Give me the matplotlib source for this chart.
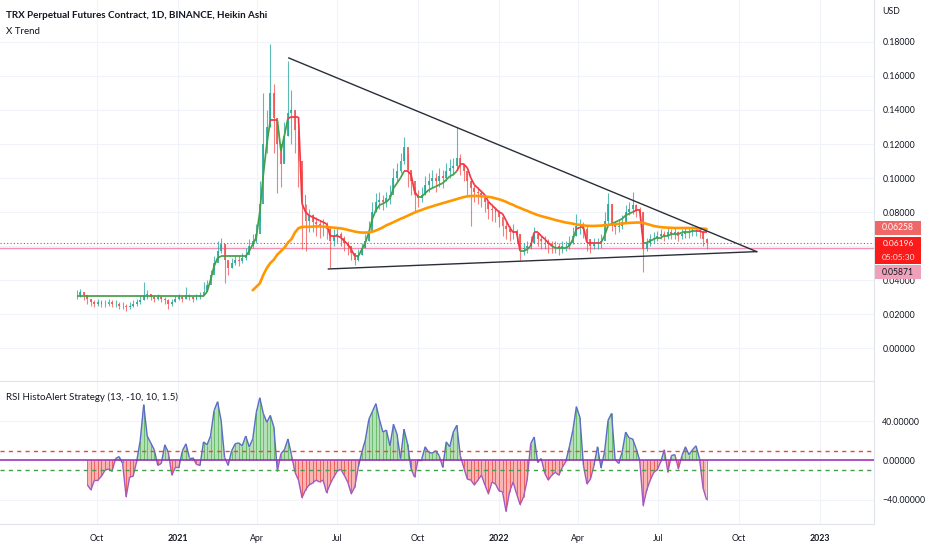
import numpy as np
import pandas as pd
import matplotlib
matplotlib.use("Agg")
import matplotlib.pyplot as plt
import matplotlib.dates as mdates
from matplotlib.collections import LineCollection
from matplotlib.patches import Rectangle

plt.rcParams['font.family'] = ['Lato', 'DejaVu Sans']

# ==========================================
# Data (one bar every 4 days)
# ==========================================

first_bar = "2020-09-08"
bar_step = "4D"

closes = [
    0.031, 0.033, 0.031, 0.029, 0.027, 0.026, 0.027, 0.026, 0.026, 0.027,
    0.026, 0.026, 0.025, 0.025, 0.024, 0.025, 0.026, 0.027, 0.028, 0.031,
    0.032, 0.030, 0.029, 0.030, 0.029, 0.028, 0.026, 0.027, 0.029, 0.030,
    0.029, 0.031, 0.030, 0.029, 0.030, 0.031, 0.033, 0.037, 0.043, 0.050,
    0.057, 0.061, 0.052, 0.047, 0.050, 0.052, 0.051, 0.053, 0.055, 0.060,
    0.063, 0.067, 0.085, 0.120, 0.130, 0.150, 0.135, 0.120, 0.108, 0.125,
    0.138, 0.140, 0.128, 0.110, 0.090, 0.075, 0.078, 0.074, 0.073, 0.071,
    0.072, 0.070, 0.063, 0.066, 0.067, 0.065, 0.062, 0.060, 0.056, 0.052,
    0.055, 0.059, 0.063, 0.068, 0.080, 0.086, 0.087, 0.086, 0.088, 0.090,
    0.100, 0.104, 0.110, 0.118, 0.105, 0.098, 0.090, 0.088, 0.090, 0.096,
    0.098, 0.100, 0.098, 0.101, 0.100, 0.104, 0.106, 0.107, 0.112, 0.108,
    0.104, 0.098, 0.094, 0.092, 0.091, 0.089, 0.086, 0.082, 0.081, 0.080,
    0.077, 0.072, 0.070, 0.068, 0.069, 0.067, 0.058, 0.059, 0.060, 0.062,
    0.067, 0.064, 0.063, 0.063, 0.061, 0.060, 0.060, 0.059, 0.060, 0.060,
    0.062, 0.066, 0.072, 0.072, 0.070, 0.064, 0.060, 0.062, 0.062, 0.063,
    0.075, 0.085, 0.073, 0.071, 0.072, 0.074, 0.080, 0.082, 0.084, 0.081,
    0.080, 0.058, 0.062, 0.064, 0.065, 0.066, 0.067, 0.066, 0.068, 0.067,
    0.068, 0.066, 0.067, 0.068, 0.068, 0.069, 0.069, 0.068, 0.064, 0.062,
]

highs = [
    0.034, 0.035, 0.033, 0.031, 0.029, 0.028, 0.029, 0.028, 0.028, 0.029,
    0.028, 0.028, 0.027, 0.027, 0.026, 0.027, 0.028, 0.029, 0.031, 0.039,
    0.034, 0.032, 0.031, 0.032, 0.031, 0.030, 0.029, 0.029, 0.031, 0.032,
    0.031, 0.036, 0.032, 0.031, 0.032, 0.033, 0.039, 0.040, 0.046, 0.054,
    0.063, 0.065, 0.061, 0.051, 0.053, 0.055, 0.054, 0.056, 0.059, 0.064,
    0.067, 0.073, 0.098, 0.150, 0.140, 0.179, 0.155, 0.135, 0.118, 0.133,
    0.169, 0.152, 0.140, 0.125, 0.105, 0.085, 0.082, 0.079, 0.077, 0.075,
    0.076, 0.074, 0.072, 0.070, 0.071, 0.068, 0.066, 0.063, 0.060, 0.056,
    0.058, 0.062, 0.067, 0.075, 0.086, 0.091, 0.092, 0.090, 0.092, 0.096,
    0.106, 0.109, 0.115, 0.124, 0.115, 0.104, 0.095, 0.093, 0.095, 0.101,
    0.103, 0.105, 0.103, 0.106, 0.105, 0.109, 0.111, 0.112, 0.130, 0.114,
    0.109, 0.103, 0.099, 0.096, 0.095, 0.093, 0.090, 0.086, 0.085, 0.083,
    0.081, 0.077, 0.074, 0.072, 0.073, 0.070, 0.067, 0.062, 0.063, 0.066,
    0.071, 0.068, 0.066, 0.066, 0.064, 0.063, 0.063, 0.062, 0.063, 0.063,
    0.066, 0.071, 0.079, 0.076, 0.074, 0.072, 0.064, 0.065, 0.065, 0.067,
    0.080, 0.091, 0.085, 0.075, 0.076, 0.078, 0.084, 0.086, 0.092, 0.085,
    0.083, 0.080, 0.065, 0.067, 0.068, 0.069, 0.070, 0.069, 0.071, 0.070,
    0.071, 0.069, 0.070, 0.071, 0.071, 0.072, 0.072, 0.071, 0.069, 0.065,
]

lows = [
    0.029, 0.030, 0.028, 0.026, 0.025, 0.024, 0.025, 0.024, 0.024, 0.025,
    0.024, 0.024, 0.023, 0.023, 0.022, 0.023, 0.024, 0.025, 0.026, 0.028,
    0.029, 0.028, 0.027, 0.028, 0.027, 0.026, 0.023, 0.025, 0.027, 0.028,
    0.027, 0.029, 0.028, 0.027, 0.028, 0.029, 0.031, 0.034, 0.040, 0.046,
    0.052, 0.056, 0.038, 0.043, 0.047, 0.049, 0.048, 0.050, 0.052, 0.056,
    0.059, 0.062, 0.075, 0.100, 0.115, 0.130, 0.115, 0.091, 0.095, 0.110,
    0.125, 0.120, 0.115, 0.095, 0.058, 0.057, 0.068, 0.068, 0.066, 0.065,
    0.066, 0.064, 0.047, 0.060, 0.062, 0.060, 0.057, 0.055, 0.052, 0.049,
    0.051, 0.055, 0.059, 0.063, 0.072, 0.080, 0.082, 0.081, 0.083, 0.085,
    0.092, 0.097, 0.103, 0.108, 0.095, 0.090, 0.080, 0.083, 0.086, 0.090,
    0.092, 0.094, 0.092, 0.095, 0.094, 0.098, 0.100, 0.102, 0.105, 0.102,
    0.098, 0.090, 0.072, 0.086, 0.085, 0.083, 0.080, 0.076, 0.075, 0.074,
    0.071, 0.066, 0.064, 0.063, 0.064, 0.062, 0.052, 0.055, 0.056, 0.058,
    0.062, 0.060, 0.058, 0.058, 0.056, 0.056, 0.056, 0.055, 0.056, 0.057,
    0.058, 0.061, 0.066, 0.067, 0.065, 0.057, 0.056, 0.058, 0.058, 0.059,
    0.068, 0.073, 0.069, 0.067, 0.068, 0.070, 0.075, 0.078, 0.079, 0.077,
    0.076, 0.045, 0.057, 0.060, 0.062, 0.063, 0.064, 0.063, 0.064, 0.064,
    0.064, 0.063, 0.064, 0.065, 0.065, 0.066, 0.066, 0.065, 0.060, 0.058,
]

# X Trend line and its direction (1 = up / green, 0 = down / red)
xtrend = [
    0.0306, 0.0306, 0.0306, 0.0306, 0.0306, 0.0306, 0.0306, 0.0306, 0.0306, 0.0306,
    0.0306, 0.0306, 0.0306, 0.0306, 0.0306, 0.0306, 0.0306, 0.0306, 0.0306, 0.0306,
    0.0306, 0.0306, 0.0306, 0.0306, 0.0306, 0.0306, 0.0306, 0.0306, 0.0306, 0.0306,
    0.0306, 0.0306, 0.0306, 0.0306, 0.0306, 0.0306, 0.0306, 0.033, 0.040, 0.048,
    0.053, 0.054, 0.054, 0.054, 0.054, 0.054, 0.054, 0.054, 0.054, 0.057,
    0.061, 0.065, 0.080, 0.102, 0.120, 0.134, 0.134, 0.134, 0.116, 0.125,
    0.135, 0.136, 0.136, 0.136, 0.085, 0.080, 0.078, 0.077, 0.076, 0.075,
    0.074, 0.073, 0.066, 0.066, 0.066, 0.065, 0.063, 0.061, 0.058, 0.054,
    0.054, 0.058, 0.062, 0.068, 0.076, 0.081, 0.084, 0.085, 0.086, 0.088,
    0.094, 0.097, 0.100, 0.104, 0.104, 0.102, 0.092, 0.089, 0.089, 0.091,
    0.093, 0.094, 0.095, 0.096, 0.097, 0.099, 0.101, 0.102, 0.104, 0.108,
    0.108, 0.106, 0.100, 0.096, 0.094, 0.092, 0.090, 0.086, 0.084, 0.082,
    0.080, 0.079, 0.075, 0.071, 0.068, 0.068, 0.057, 0.057, 0.058, 0.060,
    0.068, 0.068, 0.066, 0.064, 0.062, 0.060, 0.059, 0.059, 0.059, 0.059,
    0.060, 0.064, 0.070, 0.071, 0.071, 0.062, 0.062, 0.062, 0.062, 0.062,
    0.066, 0.072, 0.073, 0.074, 0.075, 0.076, 0.078, 0.079, 0.080, 0.081,
    0.081, 0.062, 0.062, 0.063, 0.064, 0.065, 0.065, 0.066, 0.066, 0.067,
    0.067, 0.067, 0.068, 0.068, 0.068, 0.069, 0.069, 0.069, 0.068, 0.068,
]

xtrend_up = [
    1, 1, 1, 1, 1, 1, 1, 1, 1, 1,
    1, 1, 1, 1, 1, 1, 1, 1, 1, 1,
    1, 1, 1, 1, 1, 1, 1, 1, 1, 1,
    1, 1, 1, 1, 1, 1, 1, 1, 1, 1,
    1, 1, 1, 1, 1, 1, 1, 1, 1, 1,
    1, 1, 1, 1, 1, 1, 0, 0, 1, 1,
    1, 0, 0, 0, 0, 0, 0, 0, 0, 0,
    0, 0, 0, 0, 0, 0, 0, 0, 0, 0,
    1, 1, 1, 1, 1, 1, 1, 1, 1, 1,
    1, 1, 1, 1, 0, 0, 0, 0, 1, 1,
    1, 1, 1, 1, 1, 1, 1, 1, 1, 0,
    0, 0, 0, 0, 0, 0, 0, 0, 0, 0,
    0, 0, 0, 0, 0, 0, 0, 1, 1, 1,
    0, 0, 0, 0, 0, 0, 1, 1, 1, 1,
    1, 1, 1, 0, 0, 0, 0, 0, 0, 0,
    1, 1, 1, 1, 1, 1, 1, 1, 1, 0,
    0, 0, 1, 1, 1, 1, 1, 1, 1, 1,
    1, 1, 1, 1, 1, 1, 1, 0, 0, 0,
]

# orange moving average, starts at bar 50
ma_first_bar = 50
ma_values = [
    0.034, 0.036, 0.038, 0.043, 0.047, 0.050, 0.052, 0.055, 0.057, 0.059,
    0.062, 0.064, 0.068, 0.0705, 0.0712, 0.0713, 0.0713, 0.0714, 0.0715, 0.0716,
    0.0714, 0.0712, 0.0710, 0.0708, 0.0706, 0.0704, 0.0700, 0.0695, 0.0690, 0.0685,
    0.0681, 0.0679, 0.0679, 0.0680, 0.0684, 0.0691, 0.0700, 0.0710, 0.0722, 0.0731,
    0.0740, 0.0750, 0.0760, 0.0768, 0.0778, 0.0787, 0.0797, 0.0805, 0.0812, 0.0820,
    0.0827, 0.0833, 0.0840, 0.0846, 0.0852, 0.0858, 0.0864, 0.0870, 0.0876, 0.0882,
    0.0888, 0.0892, 0.0894, 0.0895, 0.0894, 0.0893, 0.0891, 0.0889, 0.0886, 0.0880,
    0.0875, 0.0868, 0.0860, 0.0850, 0.0842, 0.0832, 0.0824, 0.0815, 0.0807, 0.0798,
    0.0790, 0.0782, 0.0776, 0.0770, 0.0765, 0.0759, 0.0753, 0.0748, 0.0743, 0.0738,
    0.0735, 0.0731, 0.0727, 0.0724, 0.0721, 0.0719, 0.0718, 0.0718, 0.0719, 0.0720,
    0.0722, 0.0724, 0.0726, 0.0728, 0.0730, 0.0732, 0.0734, 0.0736, 0.0737, 0.0738,
    0.0738, 0.0736, 0.0730, 0.0724, 0.0718, 0.0714, 0.0711, 0.0709, 0.0708, 0.0707,
    0.0706, 0.0706, 0.0706, 0.0706, 0.0706, 0.0705, 0.0704, 0.0703, 0.0702, 0.0700,
]

# RSI HistoAlert, starts at bar 3
rsi_first_bar = 3
rsi_values = [
    -25, -30, -20, -20, -16, -10, -8.5, -11, 2, 4,
    -3, -37, -17, -16, -1, 20, 57, 25, 18, 11,
    -5, -3, 16, 8.5, -15, -7, -7, 10, 17, 3,
    3, -4, -5, 19, 16, 25, 51, 60, 41, 3,
    -5, 10, 17, 18, 15, 25, 14, 22, 49, 64,
    48, 39, 46, 34, -11, 7, 11, 22, 6, -12,
    -20, -38, -30, -25, -23, -20, -22, -20, -33, -24,
    -17, -11, -9, -15, -22, -34, -27, -7, 8.5, 21,
    42, 50, 58, 42, 29, 31, 15, 37, 27, 2,
    32, 17, -8.5, -17, 1, 1, 14, 8.5, 7.5, 10,
    5, -7, 19, 14, 29, 36, 5, -7.5, -19, -20,
    -25, -20, -15, -25, -34, -22, -24, -31, -32, -52,
    -32, -22, -34, -45, -37, -20, 17, 24, -2, 2,
    -13, -20, -15, -12, -15, -7, -1, 14, 31, 55,
    44, -5, -24, -19, -5, 14, -7.5, 8.5, 41, 48,
    1, -3, 8.5, 29, 23, 22, 12, 0, -46, -30,
    -20, -12, -9.5, -1, 11, -12, 5, 6, -8.5, 5,
    14, 6, 11, 15, 2, -28, -40,
]
rsi_upper = 10
rsi_lower = -10

# triangle trend lines
upper_line_dates = ["2021-05-07", "2022-10-21"]
upper_line_prices = [0.1706, 0.0567]
lower_line_dates = ["2021-06-21", "2022-10-21"]
lower_line_prices = [0.0465, 0.0567]

last_price = 0.06196
countdown = "05:05:30"
trend_last = 0.06258
alert_price = 0.05871

price_ticks = [0.00, 0.02, 0.04, 0.06, 0.08, 0.10, 0.12, 0.14, 0.16, 0.18]
hidden_price_ticks = [0.06]   # covered by the price labels on the chart
rsi_ticks = [-40, 0, 40]
rsi_tick_labels = ["\u221240.00000", "0.00000", "40.00000"]
month_ticks = ["2020-10-01", "2021-01-01", "2021-04-01", "2021-07-01", "2021-10-01",
               "2022-01-01", "2022-04-01", "2022-07-01", "2022-10-01", "2023-01-01"]
month_labels = ["Oct", "2021", "Apr", "Jul", "Oct", "2022", "Apr", "Jul", "Oct", "2023"]

# ==========================================
# Figure layout (pixel based, 932 x 550)
# ==========================================

W, H = 932, 550
fig = plt.figure(figsize=(W / 100, H / 100), dpi=100)
fig.patch.set_facecolor("white")


def fx(px):
    return px / W


def fy(py):
    return 1 - py / H


AXIS_R = 874
ax = fig.add_axes([0, fy(381), fx(AXIS_R), 381 / H])
ax2 = fig.add_axes([0, fy(524), fx(AXIS_R), (524 - 382) / H], sharex=ax)

grid_c = "#f0f3fa"
line_c = "#e0e3eb"
text_c = "#131722"

# ==========================================
# Price pane
# ==========================================

dates = pd.date_range(first_bar, periods=len(closes), freq=bar_step)
x = mdates.date2num(dates)
c = np.array(closes)
o = np.r_[c[0], c[:-1]]
colors = np.where(c >= o, "#26a69a", "#ef5350")

ax.vlines(x, lows, highs, colors=colors, lw=0.8, alpha=0.75, zorder=2)
ax.bar(x, c - o, bottom=o, width=2.2, color=colors, alpha=0.85, lw=0, zorder=2)

# X Trend
pts = np.column_stack([x, xtrend])
segs = np.stack([pts[:-1], pts[1:]], axis=1)
seg_c = ["#43a047" if u else "#f23645" for u in xtrend_up[1:]]
ax.add_collection(LineCollection(segs, colors=seg_c, lw=1.25, zorder=3))

# moving average
ax.plot(x[ma_first_bar:ma_first_bar + len(ma_values)], ma_values,
        color="#ff9800", lw=1.9, zorder=3, solid_capstyle="round")

# triangle
ax.plot(pd.to_datetime(upper_line_dates), upper_line_prices, color="#2a2e39", lw=1, zorder=4)
ax.plot(pd.to_datetime(lower_line_dates), lower_line_prices, color="#2a2e39", lw=1, zorder=4)

# price lines
ax.axhline(last_price, color="#f23645", lw=0.8, ls=(0, (1, 2)), zorder=1)
ax.axhline(alert_price, color="#f48fb1", lw=1.0, zorder=1)

x_left = mdates.date2num(pd.Timestamp("2021-01-01")) - 202.4
x_right = mdates.date2num(pd.Timestamp("2021-01-01")) + 791.4
ax.set_xlim(x_left, x_right)
ax.set_ylim(-0.0194, 0.2047)

ax.yaxis.tick_right()
ax.set_yticks(price_ticks)
ax.set_yticklabels(["" if t in hidden_price_ticks else f"{t:.5f}" for t in price_ticks])
ax.tick_params(axis="y", length=0, pad=6, labelsize=6.3, labelcolor=text_c)
ax.tick_params(axis="x", length=0, labelbottom=False)
ax.set_xticks(mdates.date2num(pd.to_datetime(month_ticks)))
ax.grid(True, color=grid_c, lw=0.8, zorder=0)
ax.set_axisbelow(True)
for s in ["top", "left"]:
    ax.spines[s].set_visible(False)
ax.spines["right"].set_color(line_c)
ax.spines["bottom"].set_color(line_c)

# ==========================================
# RSI pane
# ==========================================

rx = x[rsi_first_bar:rsi_first_bar + len(rsi_values)]
rv = np.array(rsi_values, dtype=float)

ax2.fill_between(rx, rv, 0, where=rv >= 0, interpolate=True, color="#b5dfb7", lw=0, zorder=1)
ax2.fill_between(rx, rv, 0, where=rv <= 0, interpolate=True, color="#f9b4b4", lw=0, zorder=1)
ax2.vlines(rx, 0, rv, colors=np.where(rv >= 0, "#5cb860", "#ef5350"), lw=0.6, zorder=2)

rpts = np.column_stack([rx, rv])
rsegs = np.stack([rpts[:-1], rpts[1:]], axis=1)
rseg_c = ["#5b6bc8" if (a + b) >= 0 else "#a35ac0" for a, b in zip(rv[:-1], rv[1:])]
ax2.add_collection(LineCollection(rsegs, colors=rseg_c, lw=1.0, zorder=3))

ax2.axhline(0, color="#9c27b0", lw=1.1, zorder=4)
ax2.axhline(rsi_upper, color="#f44336", lw=1.0, ls=(0, (3, 3)), zorder=4)
ax2.axhline(rsi_lower, color="#43a047", lw=1.0, ls=(0, (3, 3)), zorder=4)

ax2.set_ylim(-64.8, 80.1)
ax2.yaxis.tick_right()
ax2.set_yticks(rsi_ticks)
ax2.set_yticklabels(rsi_tick_labels)
ax2.tick_params(axis="y", length=0, pad=6, labelsize=6.3, labelcolor=text_c)
ax2.set_xticks(mdates.date2num(pd.to_datetime(month_ticks)))
ax2.set_xticklabels(month_labels)
ax2.tick_params(axis="x", length=0, pad=7, labelsize=6.3, labelcolor=text_c)
for lab in ax2.get_xticklabels():
    if lab.get_text().isdigit():
        lab.set_fontweight("bold")
ax2.grid(True, color=grid_c, lw=0.8, zorder=0)
ax2.set_axisbelow(True)
for s in ["top", "left"]:
    ax2.spines[s].set_visible(False)
ax2.spines["right"].set_color(line_c)
ax2.spines["bottom"].set_color(line_c)

# ==========================================
# Titles and price labels
# ==========================================

fig.text(fx(6), fy(15), "TRX Perpetual Futures Contract, 1D, BINANCE, Heikin Ashi",
         fontsize=7.1, fontweight="bold", color=text_c, va="center")
fig.text(fx(6), fy(31), "X Trend", fontsize=7.0, color=text_c, va="center")
fig.text(fx(6), fy(397), "RSI HistoAlert Strategy (13, -10, 10, 1.5)",
         fontsize=7.0, color=text_c, va="center")
fig.text(fx(882), fy(12), "USD", fontsize=6.3, color=text_c, va="center")


def price_box(y0, y1, fc):
    fig.patches.append(Rectangle((fx(875), fy(y1)), fx(46), (y1 - y0) / H,
                                 transform=fig.transFigure, facecolor=fc,
                                 edgecolor="none", zorder=5))


price_box(221, 235, "#ef6767")
fig.text(fx(898), fy(228), f"{trend_last:.5f}", fontsize=6.2, color="white",
         ha="center", va="center", zorder=6)
price_box(237, 264, "#fb1b1b")
fig.text(fx(898), fy(243.5), f"{last_price:.5f}", fontsize=6.0, color="white",
         ha="center", va="center", zorder=6)
fig.text(fx(898), fy(257.5), countdown, fontsize=6.0, color="#ffe0e0",
         ha="center", va="center", zorder=6)
price_box(265, 279, "#eea1b8")
fig.text(fx(898), fy(272), f"{alert_price:.5f}", fontsize=6.2, color=text_c,
         ha="center", va="center", zorder=6)

fig.savefig("out.png", dpi=100)
